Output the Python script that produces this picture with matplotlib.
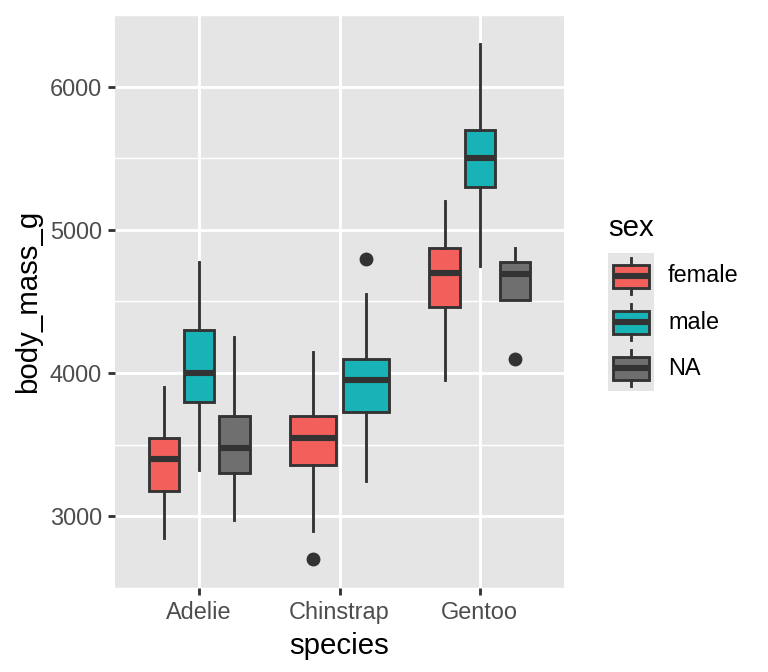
import matplotlib
matplotlib.use("Agg")
import matplotlib.pyplot as plt
from matplotlib.patches import Rectangle

plt.rcParams["font.family"] = ["Liberation Sans", "DejaVu Sans"]

### data (body_mass_g box stats)
species = ["Adelie", "Chinstrap", "Gentoo"]
sexes = ["female", "male", "NA"]
box_species = ["Adelie", "Adelie", "Adelie", "Chinstrap", "Chinstrap", "Gentoo", "Gentoo", "Gentoo"]
box_sex = ["female", "male", "NA", "female", "male", "female", "male", "NA"]
whis_lo = [2850, 3325, 2975, 2900, 3250, 3950, 4750, 4512]
q1 = [3175, 3800, 3300, 3362, 3731, 4462, 5300, 4512]
med = [3400, 4000, 3475, 3550, 3950, 4700, 5500, 4690]
q3 = [3550, 4300, 3700, 3700, 4100, 4875, 5700, 4775]
whis_hi = [3900, 4775, 4250, 4150, 4550, 5200, 6300, 4875]
outliers = [[], [], [], [2700], [4800], [], [], [4100]]

fill_cols = {"female": "#F35F5B", "male": "#17B3B7", "NA": "#6F6F6F"}
edge = "#333333"
bg = "#E5E5E5"
lw = 1.07

fig = plt.figure(figsize=(4, 3.5), dpi=192)
ax = fig.add_axes([115 / 768, 84 / 672, 449 / 768, 573 / 672])
ax.set_facecolor(bg)

# dodge positions like ggplot: 0.75 total width shared by the boxes of a species
stats, pos, wid, cols = [], [], [], []
for i in range(len(box_species)):
    sp = box_species[i]
    members = [k for k in range(len(box_species)) if box_species[k] == sp]
    n = len(members)
    j = members.index(i)
    step = 0.75 / n
    pos.append(species.index(sp) + 1 + (j - (n - 1) / 2) * step)
    wid.append(step * 0.87)
    cols.append(fill_cols[box_sex[i]])
    stats.append(dict(whislo=whis_lo[i], q1=q1[i], med=med[i], q3=q3[i],
                      whishi=whis_hi[i], fliers=outliers[i]))

bp = ax.bxp(stats, positions=pos, widths=wid, patch_artist=True, showcaps=False,
            boxprops=dict(edgecolor=edge, linewidth=lw),
            whiskerprops=dict(color=edge, linewidth=lw),
            medianprops=dict(color=edge, linewidth=2.3, solid_capstyle="butt"),
            flierprops=dict(marker="o", markerfacecolor=edge, markeredgecolor=edge,
                            markersize=4.2))
for patch, c in zip(bp["boxes"], cols):
    patch.set_facecolor(c)
    patch.set_zorder(3)
for ln in bp["medians"] + bp["whiskers"] + bp["fliers"]:
    ln.set_zorder(4)

ax.set_xlim(0.4, 3.6)
ax.set_ylim(2520, 6480)
ax.set_xticks([1, 2, 3])
ax.set_xticklabels(species)
ax.set_yticks([3000, 4000, 5000, 6000])
ax.set_yticks([2500, 3500, 4500, 5500, 6500], minor=True)
ax.set_axisbelow(True)
ax.grid(which="major", color="white", linewidth=1.07)
ax.grid(which="minor", axis="y", color="white", linewidth=0.53)
ax.tick_params(which="major", length=2.75, width=1.07, color="#333333",
               labelsize=8.8, labelcolor="#4D4D4D", pad=2.2)
ax.tick_params(which="minor", length=0)
for s in ax.spines.values():
    s.set_visible(False)

ax.set_xlabel("species", fontsize=11, labelpad=2.75)
ax.set_ylabel("body_mass_g", fontsize=11, labelpad=2.75)

# legend drawn as boxplot key glyphs
lax = fig.add_axes([608 / 768, (672 - 391) / 672, 46 / 768, 138 / 672])
lax.set_xlim(0, 1)
lax.set_ylim(0, 3)
lax.axis("off")
for k, sx in enumerate(sexes):
    y0 = 2 - k
    lax.add_patch(Rectangle((0, y0), 1, 1, facecolor=bg, edgecolor="none"))
    lax.plot([0.5, 0.5], [y0 + 0.1, y0 + 0.25], color=edge, lw=lw)
    lax.plot([0.5, 0.5], [y0 + 0.75, y0 + 0.9], color=edge, lw=lw)
    lax.add_patch(Rectangle((0.1, y0 + 0.25), 0.8, 0.5, facecolor=fill_cols[sx],
                            edgecolor=edge, linewidth=lw))
    lax.plot([0.1, 0.9], [y0 + 0.5, y0 + 0.5], color=edge, lw=2.3, solid_capstyle="butt")
    fig.text(668 / 768, 1 - (253 + 46 * k + 23) / 672, sx, fontsize=8.8,
             va="center", ha="left")
fig.text(608 / 768, 1 - 228 / 672, "sex", fontsize=11, va="center", ha="left")

fig.savefig("out.png", dpi=192)
